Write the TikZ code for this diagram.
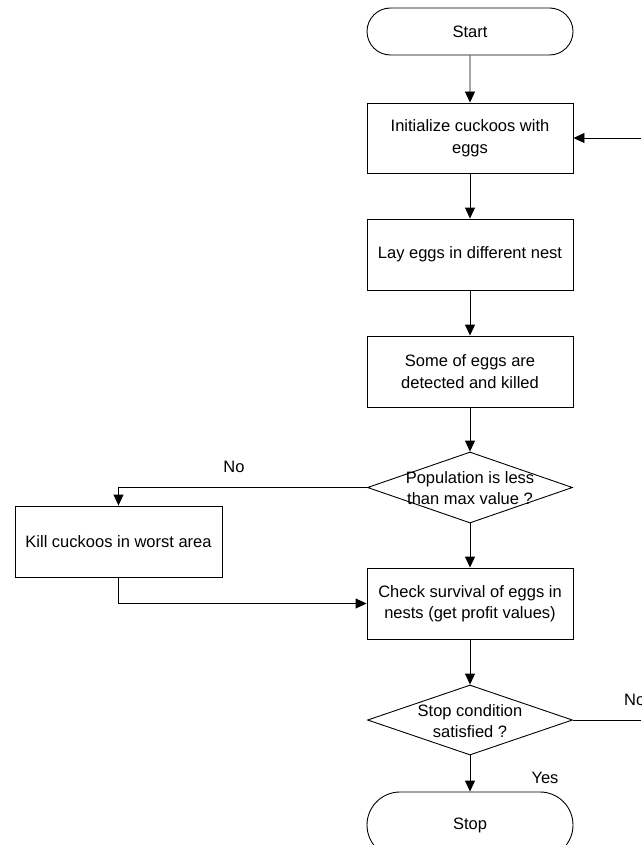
\documentclass[tikz,border=0pt]{standalone}
\usepackage{fontspec}
\setmainfont{Liberation Sans}
\usetikzlibrary{shapes.geometric,shapes.misc,arrows.meta}
\begin{document}
\begin{tikzpicture}[x=1pt,y=-1pt,
  every node/.style={font=\fontsize{16.5}{21.5}\selectfont},
  box/.style={draw,line width=0.9pt,minimum width=206pt,minimum height=71pt,align=center,inner sep=0pt},
  term/.style={draw,line width=0.9pt,rounded rectangle,minimum width=206pt,inner sep=0pt},
  dia/.style={draw,line width=0.9pt,diamond,minimum width=205pt,minimum height=71pt,inner sep=0pt},
  lbl/.style={align=center,inner sep=0pt},
  flow/.style={line width=0.9pt,-{Triangle[length=11pt,width=10pt]}},
  plain/.style={line width=0.9pt}]
\useasboundingbox (0,0) rectangle (641,845);
\clip (0,0) rectangle (641,845);
\node[term,minimum height=47pt] (start) at (470,31.5) {Start};
\node[box,minimum height=70pt] (init) at (470,138) {Initialize cuckoos with\\eggs};
\node[box] (lay) at (470,254.5) {Lay eggs in different nest};
\node[box] (some) at (470,371.5) {Some of eggs are\\detected and killed};
\node[dia] (pop) at (470,487.5) {};
\node[lbl] (popt) at (470,488) {Population is less\\than max value ?};
\node[box,minimum width=207pt] (kill) at (118.5,541.5) {Kill cuckoos in worst area};
\node[box] (check) at (470,603.5) {Check survival of eggs in\\nests (get profit values)};
\node[dia,minimum height=70pt] (stopc) at (470,720) {};
\node[lbl] (stopct) at (470,721) {Stop condition\\satisfied ?};
\node[term,minimum height=66pt] (stop) at (470,825) {Stop};
\coordinate (loopin) at (641,138);
\coordinate (loopout) at (641,720);
\node[lbl] (no1) at (234,467) {No};
\node[lbl,anchor=west] (no2) at (624,700) {No};
\node[lbl] (yes) at (545,778) {Yes};
\draw[flow] (start) -- (init);
\draw[flow] (loopin) -- (init.east);
\draw[flow] (init) -- (lay);
\draw[flow] (lay) -- (some);
\draw[flow] (some) -- (pop.north);
\draw[flow] (pop.west) -| (kill.north);
\draw[flow] (pop.south) -- (check.north);
\draw[flow] (kill.south) |- (check.west);
\draw[flow] (check) -- (stopc.north);
\draw[plain] (stopc.east) -- (loopout);
\draw[flow] (stopc.south) -- (stop.north);
\end{tikzpicture}
\end{document}
